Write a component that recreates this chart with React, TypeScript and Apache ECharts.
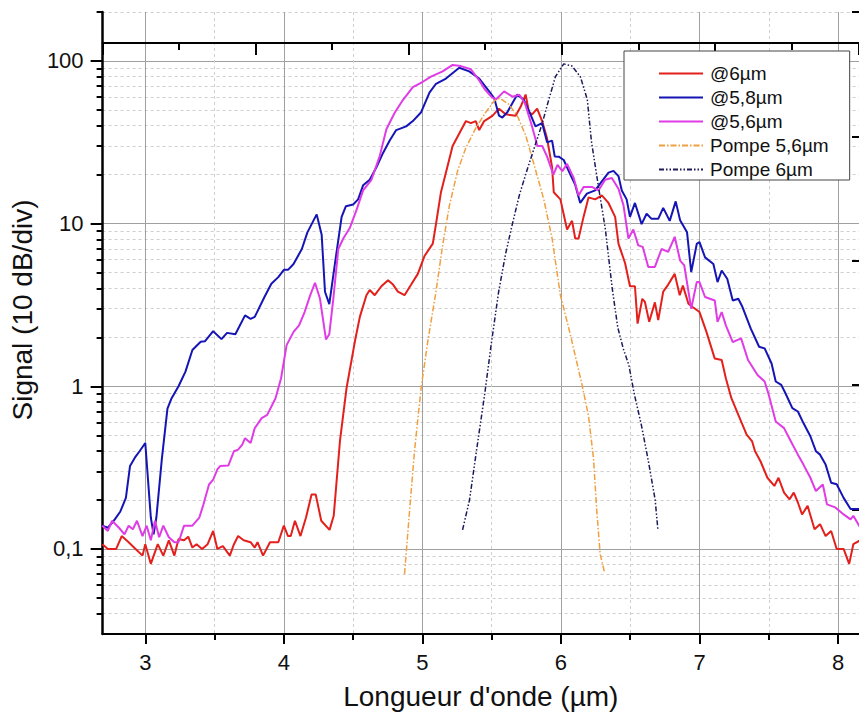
import React, { useEffect, useRef } from 'react';
import * as echarts from 'echarts';

const FONT = '"Liberation Sans", Arial, Helvetica, sans-serif';

// axis ranges
const X_MIN = 2.692;
const X_MAX = 8.151;
const Y_MIN = 0.03;
const Y_MAX = 200;

// tick values
const xMajorTicks = [3, 4, 5, 6, 7, 8];
const xMinorTicks = [3.5, 4.5, 5.5, 6.5, 7.5];
const yMajorTicks = [0.1, 1, 10, 100];
const yMinorTicks = [
  0.04, 0.05, 0.06, 0.07, 0.08, 0.09,
  0.2, 0.3, 0.4, 0.5, 0.6, 0.7, 0.8, 0.9,
  2, 3, 4, 5, 6, 7, 8, 9,
  20, 30, 40, 50, 60, 70, 80, 90, 200,
];

const seriesNames = ['@6µm', '@5,8µm', '@5,6µm', 'Pompe 5,6µm', 'Pompe 6µm'];

// @6µm
const red: [number, number][] = [
  [2.69, 0.107], [2.73, 0.1], [2.79, 0.1], [2.83, 0.12], [2.88, 0.11], [2.93, 0.1], [2.98, 0.091], [3.0, 0.107],
  [3.04, 0.081], [3.09, 0.107], [3.13, 0.091], [3.17, 0.113], [3.21, 0.091], [3.24, 0.115], [3.28, 0.113], [3.31, 0.119],
  [3.34, 0.102], [3.37, 0.107], [3.41, 0.1], [3.45, 0.107], [3.49, 0.129], [3.52, 0.1], [3.56, 0.104], [3.61, 0.091],
  [3.64, 0.107], [3.67, 0.12], [3.71, 0.113], [3.76, 0.11], [3.79, 0.102], [3.81, 0.11], [3.85, 0.091], [3.9, 0.11],
  [3.96, 0.11], [4.0, 0.139], [4.03, 0.12], [4.05, 0.12], [4.08, 0.149], [4.12, 0.12], [4.16, 0.156], [4.2, 0.216],
  [4.23, 0.216], [4.27, 0.149], [4.33, 0.131], [4.36, 0.16], [4.405, 0.461], [4.453, 0.98], [4.513, 1.89], [4.549, 2.68],
  [4.596, 3.63], [4.62, 3.91], [4.656, 3.63], [4.704, 4.12], [4.752, 4.49], [4.788, 4.22], [4.823, 3.82], [4.871, 3.63],
  [4.919, 4.22], [4.967, 4.91], [5.015, 6.32], [5.075, 7.54], [5.098, 9.93], [5.134, 15.6], [5.17, 20.6], [5.218, 30],
  [5.266, 35.8], [5.314, 42.7], [5.35, 41.5], [5.385, 42.7], [5.41, 37.6], [5.446, 42.7], [5.505, 46], [5.553, 50.9],
  [5.601, 47], [5.673, 46], [5.709, 52.3], [5.745, 62.2], [5.769, 48.4], [5.792, 47], [5.828, 50.9], [5.864, 42.7],
  [5.9, 33.3], [5.936, 22.2], [5.948, 15.6], [5.996, 14.1], [6.044, 9.2], [6.08, 10.4], [6.103, 8.1], [6.127, 8.1],
  [6.163, 11], [6.199, 14.5], [6.247, 14.1], [6.295, 14.9], [6.343, 13.4], [6.391, 11], [6.415, 7.54], [6.463, 5.71],
  [6.498, 4.12], [6.534, 4.12], [6.553, 2.43], [6.587, 3.45], [6.606, 3.3], [6.637, 2.49], [6.678, 3.28], [6.702, 2.55],
  [6.738, 3.82], [6.774, 4.22], [6.821, 4.91], [6.857, 3.63], [6.88, 4.16], [6.92, 3.22], [6.95, 3.07], [7.0, 2.86],
  [7.05, 2.16], [7.11, 1.48], [7.16, 1.45], [7.19, 1.12], [7.23, 0.845], [7.29, 0.637], [7.34, 0.504], [7.38, 0.458],
  [7.4, 0.4], [7.44, 0.346], [7.49, 0.274], [7.54, 0.244], [7.57, 0.274], [7.61, 0.222], [7.65, 0.202], [7.68, 0.222],
  [7.71, 0.193], [7.74, 0.163], [7.78, 0.184], [7.83, 0.132], [7.87, 0.142], [7.91, 0.12], [7.95, 0.129], [7.99, 0.1],
  [8.04, 0.1], [8.08, 0.081], [8.11, 0.107], [8.16, 0.113],
];

// @5,8µm
const blue: [number, number][] = [
  [2.69, 0.139], [2.73, 0.135], [2.78, 0.152], [2.82, 0.17], [2.86, 0.206], [2.89, 0.324], [2.93, 0.37], [2.96, 0.4],
  [3.0, 0.448], [3.04, 0.156], [3.06, 0.123], [3.08, 0.156], [3.12, 0.36], [3.16, 0.73], [3.19, 0.845], [3.24, 1.0],
  [3.29, 1.23], [3.34, 1.67], [3.4, 1.88], [3.43, 1.89], [3.49, 2.18], [3.55, 1.95], [3.59, 2.13], [3.65, 2.09],
  [3.72, 2.73], [3.76, 2.6], [3.79, 2.67], [3.86, 3.54], [3.91, 4.27], [3.96, 4.69], [4.0, 5.2], [4.03, 5.2],
  [4.07, 5.65], [4.13, 6.98], [4.17, 8.84], [4.237, 11.4], [4.273, 8.55], [4.297, 3.81], [4.328, 3.2], [4.369, 5.7],
  [4.417, 11.0], [4.448, 12.8], [4.5, 13.1], [4.536, 14.1], [4.572, 17.2], [4.62, 18.6], [4.668, 22.2], [4.716, 27.2],
  [4.764, 32.4], [4.811, 37.6], [4.883, 39.6], [4.931, 42.7], [4.991, 48.4], [5.051, 63.8], [5.098, 72.4], [5.17, 78],
  [5.266, 90.8], [5.338, 86.3], [5.41, 78], [5.469, 67.1], [5.518, 59.2], [5.553, 46.1], [5.577, 44.9], [5.613, 48.4],
  [5.649, 55], [5.685, 62.2], [5.733, 57.5], [5.78, 47], [5.816, 39.6], [5.864, 41.5], [5.9, 31.6], [5.936, 32.4],
  [5.955, 25.9], [5.984, 25.8], [6.02, 24.6], [6.067, 20.1], [6.103, 17.3], [6.139, 13.4], [6.187, 15.3], [6.247, 16],
  [6.295, 18.2], [6.343, 20.6], [6.379, 21.1], [6.415, 19.6], [6.439, 16], [6.474, 14.1], [6.498, 11], [6.534, 13.4],
  [6.582, 9.93], [6.618, 11.5], [6.654, 10.7], [6.702, 10.7], [6.738, 12.5], [6.785, 10.4], [6.828, 13.7], [6.86, 10.5],
  [6.91, 8.84], [6.94, 5.03], [6.98, 7.5], [7.0, 7.7], [7.04, 6.2], [7.1, 5.65], [7.13, 4.37], [7.16, 5.15],
  [7.2, 4.58], [7.24, 3.37], [7.28, 3.45], [7.31, 3.07], [7.37, 2.26], [7.43, 1.75], [7.47, 1.71], [7.52, 1.38],
  [7.55, 1.07], [7.59, 1.02], [7.62, 0.906], [7.67, 0.734], [7.71, 0.7], [7.75, 0.594], [7.8, 0.493], [7.84, 0.399],
  [7.87, 0.38], [7.91, 0.33], [7.95, 0.255], [7.99, 0.25], [8.04, 0.206], [8.09, 0.176], [8.16, 0.176],
];

// @5,6µm
const magenta: [number, number][] = [
  [2.69, 0.139], [2.73, 0.129], [2.76, 0.149], [2.81, 0.135], [2.85, 0.123], [2.88, 0.139], [2.91, 0.132], [2.94, 0.149],
  [2.98, 0.12], [3.01, 0.139], [3.04, 0.113], [3.07, 0.149], [3.1, 0.118], [3.13, 0.139], [3.17, 0.118], [3.21, 0.11],
  [3.24, 0.11], [3.28, 0.139], [3.34, 0.139], [3.39, 0.156], [3.42, 0.188], [3.46, 0.249], [3.49, 0.267], [3.52, 0.308],
  [3.54, 0.323], [3.6, 0.326], [3.64, 0.399], [3.67, 0.408], [3.7, 0.438], [3.72, 0.48], [3.76, 0.448], [3.79, 0.553],
  [3.84, 0.637], [3.88, 0.667], [3.94, 0.845], [3.98, 1.12], [4.02, 1.79], [4.07, 2.16], [4.11, 2.37], [4.15, 2.86],
  [4.19, 3.62], [4.225, 4.33], [4.261, 3.45], [4.304, 1.94], [4.328, 2.09], [4.357, 3.45], [4.393, 6.98], [4.429, 8.1],
  [4.477, 9.44], [4.524, 12.1], [4.572, 16], [4.632, 18.6], [4.692, 26], [4.74, 38], [4.8, 48], [4.859, 57.5],
  [4.931, 69], [5.003, 74.5], [5.062, 80.1], [5.146, 86.3], [5.218, 94.6], [5.278, 93.0], [5.35, 88.9], [5.41, 76],
  [5.45, 67], [5.5, 60], [5.53, 58], [5.59, 65], [5.65, 60.3], [5.7, 62], [5.74, 55], [5.79, 40],
  [5.83, 30], [5.865, 30], [5.9, 25.8], [5.945, 20], [5.975, 23], [6.01, 21], [6.044, 23.3], [6.092, 19.1],
  [6.127, 14.9], [6.163, 16.8], [6.223, 16.8], [6.271, 16], [6.319, 18.6], [6.367, 19.1], [6.415, 16.4], [6.451, 13],
  [6.487, 8.1], [6.522, 9.2], [6.558, 7.35], [6.59, 7.2], [6.63, 5.42], [6.678, 5.42], [6.726, 6.98], [6.774, 6.7],
  [6.821, 8.3], [6.86, 5.93], [6.89, 5.53], [6.94, 3.0], [6.98, 4.37], [7.0, 4.37], [7.04, 3.54], [7.11, 3.37],
  [7.13, 2.49], [7.16, 2.86], [7.19, 2.37], [7.24, 1.87], [7.3, 1.97], [7.35, 1.45], [7.42, 1.17], [7.47, 1.07],
  [7.5, 0.885], [7.55, 0.608], [7.61, 0.553], [7.66, 0.458], [7.71, 0.38], [7.75, 0.33], [7.8, 0.274], [7.84, 0.227],
  [7.89, 0.249], [7.92, 0.188], [7.98, 0.18], [8.04, 0.163], [8.09, 0.152], [8.11, 0.16], [8.16, 0.135],
];

// Pompe 5,6µm
const pump56: [number, number][] = [
  [4.871, 0.07], [4.907, 0.17], [4.943, 0.4], [4.991, 0.98], [5.039, 1.89], [5.098, 3.82], [5.146, 7.35], [5.194, 12.8],
  [5.254, 21.1], [5.314, 29.3], [5.385, 38.6], [5.457, 48.4], [5.52, 57], [5.56, 59], [5.625, 54], [5.685, 46],
  [5.745, 35], [5.8, 24], [5.876, 14.1], [5.936, 8.1], [5.996, 3.63], [6.067, 2.09], [6.151, 1.03], [6.199, 0.656],
  [6.235, 0.359], [6.259, 0.169], [6.283, 0.093], [6.314, 0.072],
];

// Pompe 6µm
const pump6: [number, number][] = [
  [5.29, 0.131], [5.34, 0.2], [5.39, 0.4], [5.45, 0.9], [5.5, 1.9], [5.55, 3.8], [5.6, 6.5], [5.65, 10],
  [5.7, 15], [5.76, 22], [5.8, 28], [5.86, 40], [5.91, 57], [5.96, 80], [6.02, 96], [6.08, 93],
  [6.14, 80], [6.19, 58], [6.22, 32], [6.27, 17], [6.32, 9.3], [6.37, 4.0], [6.41, 2.3], [6.45, 1.7],
  [6.49, 1.35], [6.53, 0.89], [6.58, 0.58], [6.63, 0.35], [6.68, 0.2], [6.7, 0.13],
];

const colors = ['#e3201c', '#1515b5', '#e03ce6', '#f0a040', '#1a1a5c'];

function buildOption() {
  const textBase = { fontFamily: FONT, color: '#111' };
  const lineSeries = (name: string, data: [number, number][], color: string, width: number, type: any) => ({
    name,
    type: 'line',
    xAxisIndex: 1,
    yAxisIndex: 1,
    data,
    symbol: 'none',
    showSymbol: false,
    smooth: false,
    clip: true,
    color,
    lineStyle: { color, width, type },
    emphasis: { disabled: true },
  });

  return {
    animation: false,
    backgroundColor: '#fff',
    textStyle: { fontFamily: FONT },
    grid: { left: 98, top: 12, right: 0, bottom: 78, containLabel: false },
    legend: {
      orient: 'vertical',
      left: 624,
      top: 51,
      itemWidth: 44,
      itemHeight: 14,
      itemGap: 5,
      padding: [13, 21, 1, 34],
      backgroundColor: '#fff',
      borderColor: '#444',
      borderWidth: 1,
      itemStyle: { color: 'transparent', borderWidth: 0, opacity: 0 },
      textStyle: { ...textBase, fontSize: 19, lineHeight: 19, padding: [0, 0, 0, 2] },
      data: seriesNames,
    },
    xAxis: [
      {
        type: 'value',
        min: X_MIN,
        max: X_MAX,
        position: 'bottom',
        axisLine: { show: false },
        axisTick: { show: true, length: 6, customValues: xMinorTicks, lineStyle: { color: '#000', width: 2 } },
        axisLabel: { show: false },
        splitLine: { show: true, lineStyle: { color: '#cfcfcf', width: 1, type: [3, 3] } },
      },
      {
        type: 'value',
        min: X_MIN,
        max: X_MAX,
        position: 'bottom',
        axisLine: { show: true, onZero: false, lineStyle: { color: '#000', width: 2 } },
        axisTick: { show: true, length: 10, customValues: xMajorTicks, lineStyle: { color: '#000', width: 2 } },
        axisLabel: { customValues: xMajorTicks, fontSize: 22, margin: 17, ...textBase },
        splitLine: { show: true, lineStyle: { color: '#a0a0a0', width: 1 } },
        name: "Longueur d'onde (µm)",
        nameLocation: 'middle',
        nameGap: 48,
        nameTextStyle: { ...textBase, fontSize: 28 },
      },
      {
        type: 'value',
        min: 0,
        max: 4.942,
        interval: 1,
        position: 'top',
        offset: -31,
        axisLine: { show: true, lineStyle: { color: '#000', width: 2 } },
        axisTick: { show: true, inside: true, length: 12, lineStyle: { color: '#000', width: 2 } },
        minorTick: { show: true, splitNumber: 2, length: 7, lineStyle: { color: '#000', width: 2 } },
        axisLabel: { show: false },
        splitLine: { show: false },
      },
    ],
    yAxis: [
      {
        type: 'log',
        logBase: 10,
        min: Y_MIN,
        max: Y_MAX,
        position: 'left',
        axisLine: { show: false },
        axisTick: { show: true, length: 6, customValues: yMinorTicks, lineStyle: { color: '#000', width: 2 } },
        axisLabel: { show: false },
        splitLine: { show: true, lineStyle: { color: '#cfcfcf', width: 1, type: [3, 3] } },
      },
      {
        type: 'log',
        logBase: 10,
        min: Y_MIN,
        max: Y_MAX,
        position: 'left',
        axisLine: { show: true, onZero: false, lineStyle: { color: '#000', width: 2.5 } },
        axisTick: { show: true, length: 12, customValues: yMajorTicks, lineStyle: { color: '#000', width: 2 } },
        axisLabel: {
          customValues: yMajorTicks,
          fontSize: 22,
          margin: 19,
          ...textBase,
          formatter: (v: number) => (v >= 1 ? String(Math.round(v)) : String(v).replace('.', ',')),
        },
        splitLine: { show: true, lineStyle: { color: '#a0a0a0', width: 1 } },
        name: 'Signal (10 dB/div)',
        nameLocation: 'middle',
        nameGap: 57,
        nameTextStyle: { ...textBase, fontSize: 28, padding: [0, 0, 0, 26] },
      },
      {
        type: 'value',
        min: 0,
        max: 5,
        interval: 1,
        position: 'right',
        axisLine: { show: false },
        axisTick: { show: true, inside: true, length: 7, lineStyle: { color: '#000', width: 2 } },
        axisLabel: { show: false },
        splitLine: { show: false },
      },
    ],
    series: [
      lineSeries(seriesNames[0], red, colors[0], 2, 'solid'),
      lineSeries(seriesNames[1], blue, colors[1], 2, 'solid'),
      lineSeries(seriesNames[2], magenta, colors[2], 2, 'solid'),
      lineSeries(seriesNames[3], pump56, colors[3], 1.5, [6, 2, 1.5, 2]),
      lineSeries(seriesNames[4], pump6, colors[4], 1.5, [5, 2, 1.5, 2, 1.5, 2]),
    ],
  };
}

export default function App() {
  const ref = useRef<HTMLDivElement>(null);
  useEffect(() => {
    document.body.style.margin = '0';
    const chart = echarts.init(ref.current as HTMLDivElement, null, { renderer: 'svg' });
    chart.setOption(buildOption() as any);
    return () => chart.dispose();
  }, []);
  return <div ref={ref} style={{ width: 859, height: 715 }} />;
}
